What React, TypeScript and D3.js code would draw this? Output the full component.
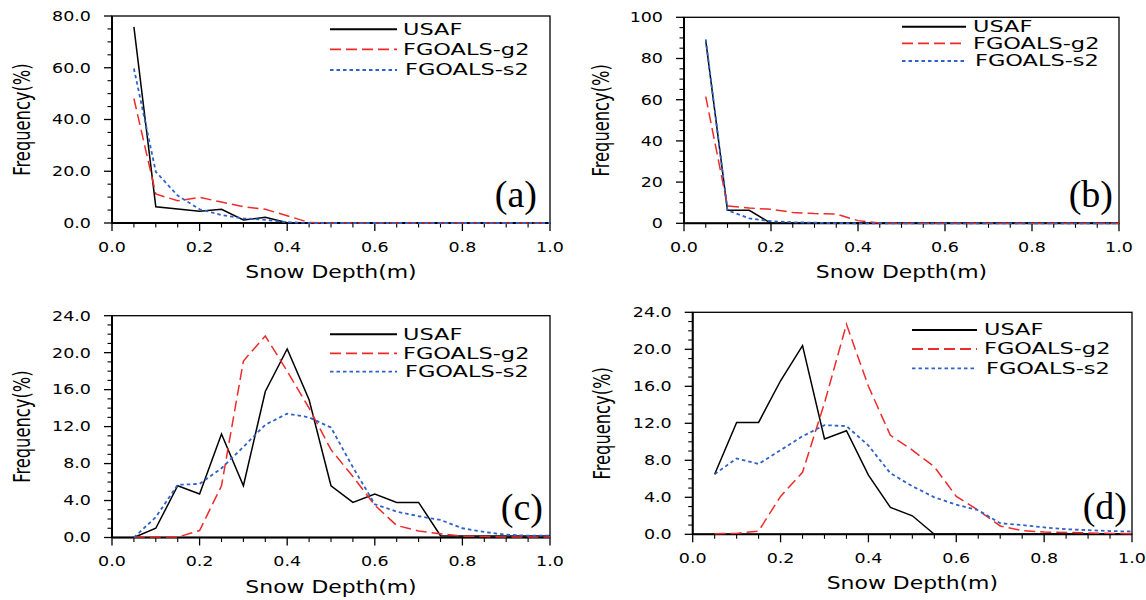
import React from "react";
import * as d3 from "d3";

// ---------- data ----------
const depth = [0.05, 0.1, 0.15, 0.2, 0.25, 0.3, 0.35, 0.4, 0.45, 0.5, 0.55, 0.6, 0.65, 0.7, 0.75, 0.8, 0.85, 0.9, 0.95, 1.0];
const seriesNames = ["USAF", "FGOALS-g2", "FGOALS-s2"];

const aUSAF = [75.8, 6.3, 5.4, 4.5, 5.3, 1.2, 2.2, 0.1, 0, 0, 0, 0, 0, 0, 0, 0, 0, 0, 0, 0];
const aG2 = [48.1, 11.2, 8.6, 9.9, 8.1, 6.3, 5.3, 2.8, 0.2, 0, 0, 0, 0, 0, 0, 0, 0, 0, 0, 0];
const aS2 = [59.7, 19.8, 10.6, 5.3, 3.1, 1.8, 1.2, 0.3, 0, 0, 0, 0, 0, 0, 0, 0, 0, 0, 0, 0];

const bUSAF = [88.7, 6.3, 6.3, 0, 0, 0, 0, 0, 0, 0, 0, 0, 0, 0, 0, 0, 0, 0, 0, 0];
const bG2 = [61.5, 8.4, 7.4, 6.8, 5.3, 4.7, 4.5, 1.3, 0.2, 0, 0, 0, 0, 0, 0, 0, 0, 0, 0, 0];
const bS2 = [89.3, 6.3, 2.4, 1.0, 0.5, 0.3, 0.1, 0, 0, 0, 0, 0, 0, 0, 0, 0, 0, 0, 0, 0];

const cUSAF = [0, 1.0, 5.6, 4.7, 11.2, 5.6, 15.8, 20.4, 14.9, 5.6, 3.8, 4.7, 3.8, 3.8, 0.2, 0.15, 0.15, 0.15, 0.15, 0.15];
const cG2 = [0.05, 0.05, 0.05, 0.75, 5.6, 19.1, 21.8, 18.0, 14.0, 9.5, 6.6, 3.5, 1.3, 0.7, 0.4, 0.15, 0.1, 0.05, 0.05, 0.05];
const cS2 = [0, 2.2, 5.7, 5.8, 7.5, 9.8, 12.2, 13.4, 13.0, 11.9, 7.6, 3.6, 2.8, 2.3, 1.9, 1.0, 0.6, 0.3, 0.2, 0.2];

const dUSAF = [6.5, 12.1, 12.1, 16.6, 20.4, 10.3, 11.2, 6.4, 2.9, 2.0, 0, 0, 0, 0, 0, 0, 0, 0, 0, 0];
const dG2 = [0.05, 0.1, 0.35, 4.1, 6.7, 14.2, 22.7, 16.0, 10.7, 9.1, 7.3, 4.1, 2.6, 0.9, 0.4, 0.25, 0.2, 0.15, 0.1, 0.05];
const dS2 = [6.5, 8.2, 7.6, 9.1, 10.6, 11.8, 11.7, 9.6, 6.6, 5.2, 4.0, 3.2, 2.6, 1.2, 1.0, 0.75, 0.55, 0.45, 0.35, 0.3];

const xTickLabels = ["0.0", "0.2", "0.4", "0.6", "0.8", "1.0"];
const panelLabels = ["(a)", "(b)", "(c)", "(d)"];
const xTitle = "Snow Depth(m)";
const yTitle = "Frequency(%)";

// ---------- styles ----------
const lineStyles = [
  { color: "#000000", dash: "none", width: 1.5 },
  { color: "#ee2b2b", dash: "11,5", width: 1.5 },
  { color: "#2e62c9", dash: "3.5,3", width: 1.8 },
];

const SANS = "'DejaVu Sans', sans-serif";
const SERIF = "'Liberation Serif', 'Times New Roman', serif";

const panels = [
  { x0: 112, x1: 550, top: 16, bottom: 223, yMax: 80, yMajor: 20, yMinor: 5, fmt: ".1f", data: [aUSAF, aG2, aS2],
    leg: { l0: 330, l1: 397, tx: 403, rows: [29.3, 49.3, 70] }, labelX: 537, labelY: 207, yTitleX: 22.5 },
  { x0: 684, x1: 1119, top: 17.3, bottom: 223.3, yMax: 100, yMajor: 20, yMinor: 5, fmt: "d", data: [bUSAF, bG2, bS2],
    leg: { l0: 902, l1: 966, tx: 973, rows: [26.7, 43.3, 61] }, labelX: 1113, labelY: 207, yTitleX: 601.7 },
  { x0: 112, x1: 550, top: 315.7, bottom: 537.5, yMax: 24, yMajor: 4, yMinor: 1, fmt: ".1f", data: [cUSAF, cG2, cS2],
    leg: { l0: 330, l1: 397, tx: 403, rows: [334.3, 353.3, 371.7] }, labelX: 543, labelY: 520, yTitleX: 22.5 },
  { x0: 692.7, x1: 1132, top: 312.3, bottom: 534.3, yMax: 24, yMajor: 4, yMinor: 1, fmt: ".1f", data: [dUSAF, dG2, dS2],
    leg: { l0: 912, l1: 977, tx: 984, rows: [330, 349, 368.3] }, labelX: 1127, labelY: 519, yTitleX: 602.5 },
];

function T(props: any) {
  const { x, y, sx = 1, sy = 1, rot = 0, anchor = "start", size, family = SANS, baseline, children } = props;
  return (
    <text
      transform={`translate(${x},${y}) rotate(${rot}) scale(${sx},${sy})`}
      textAnchor={anchor}
      fontSize={size}
      fontFamily={family}
      dominantBaseline={baseline}
      fill="#000"
    >
      {children}
    </text>
  );
}

function Panel({ p, idx }: any) {
  const x = d3.scaleLinear().domain([0, 1]).range([p.x0, p.x1]);
  const y = d3.scaleLinear().domain([0, p.yMax]).range([p.bottom, p.top]);
  const fmt = d3.format(p.fmt);
  const yMajors = d3.range(0, p.yMax + 1e-9, p.yMajor);
  const yMinors = d3.range(0, p.yMax + 1e-9, p.yMinor).filter((v) => Math.abs(v / p.yMajor - Math.round(v / p.yMajor)) > 1e-6);
  const xMajors = x.ticks(5);
  const xMinors = d3.range(0, 1.0001, 0.05).filter((v) => Math.abs(v / 0.2 - Math.round(v / 0.2)) > 1e-6);
  const line = d3
    .line<number>()
    .x((_, i) => x(depth[i]))
    .y((v) => y(v));

  return (
    <g>
      {/* frame */}
      <rect x={p.x0} y={p.top} width={p.x1 - p.x0} height={p.bottom - p.top} fill="none" stroke="#000" strokeWidth={1.3} />
      <line x1={p.x0} x2={p.x0} y1={p.top} y2={p.bottom} stroke="#000" strokeWidth={2} />
      <line x1={p.x0} x2={p.x1} y1={p.bottom} y2={p.bottom} stroke="#000" strokeWidth={2} />
      {/* y ticks */}
      {yMajors.map((v) => (
        <g key={"ym" + v}>
          <line x1={p.x0 - 8} x2={p.x0} y1={y(v)} y2={y(v)} stroke="#000" strokeWidth={1.3} />
          <T x={p.x0 - 21} y={y(v)} anchor="end" size={14} sx={1.25} baseline="central">
            {fmt(v)}
          </T>
        </g>
      ))}
      {yMinors.map((v) => (
        <line key={"yn" + v} x1={p.x0 - 4.5} x2={p.x0} y1={y(v)} y2={y(v)} stroke="#000" strokeWidth={1.1} />
      ))}
      {/* x ticks */}
      {xMajors.map((v, i) => (
        <g key={"xm" + v}>
          <line x1={x(v)} x2={x(v)} y1={p.bottom} y2={p.bottom + 8} stroke="#000" strokeWidth={1.3} />
          <T x={x(v)} y={p.bottom + 28.5} anchor="middle" size={14} sx={1.25}>
            {xTickLabels[i]}
          </T>
        </g>
      ))}
      {xMinors.map((v) => (
        <line key={"xn" + v} x1={x(v)} x2={x(v)} y1={p.bottom} y2={p.bottom + 4.5} stroke="#000" strokeWidth={1.1} />
      ))}
      {/* titles */}
      <T x={(p.x0 + p.x1) / 2} y={p.bottom + 55} anchor="middle" size={17.4} sx={1.26}>
        {xTitle}
      </T>
      <T x={p.yTitleX} y={(p.top + p.bottom) / 2} rot={-90} anchor="middle" size={16.3} sx={1.0} sy={1.4} baseline="central">
        {yTitle}
      </T>
      {/* series */}
      {p.data.map((s: number[], k: number) => (
        <path
          key={"s" + k}
          d={line(s) || ""}
          fill="none"
          stroke={lineStyles[k].color}
          strokeWidth={lineStyles[k].width}
          strokeDasharray={lineStyles[k].dash}
          strokeLinejoin="miter"
        />
      ))}
      {/* legend */}
      {seriesNames.map((n, k) => (
        <g key={"l" + k}>
          <line
            x1={p.leg.l0}
            x2={p.leg.l1}
            y1={p.leg.rows[k]}
            y2={p.leg.rows[k]}
            stroke={lineStyles[k].color}
            strokeWidth={k === 0 ? 2 : 1.8}
            strokeDasharray={lineStyles[k].dash}
          />
          <T x={p.leg.tx + (k === 2 ? 2 : 0)} y={p.leg.rows[k]} size={15.5} sx={1.45} baseline="central">
            {n}
          </T>
        </g>
      ))}
      <T x={p.labelX} y={p.labelY} anchor="end" size={38} family={SERIF}>
        {panelLabels[idx]}
      </T>
    </g>
  );
}

export default function App() {
  return (
    <svg
      width={1146}
      height={600}
      viewBox="0 0 1146 600"
      style={{ position: "absolute", left: 0, top: 0, background: "#fff" }}
    >
      <rect x={0} y={0} width={1146} height={600} fill="#fff" />
      {panels.map((p, i) => (
        <Panel key={i} p={p} idx={i} />
      ))}
    </svg>
  );
}
